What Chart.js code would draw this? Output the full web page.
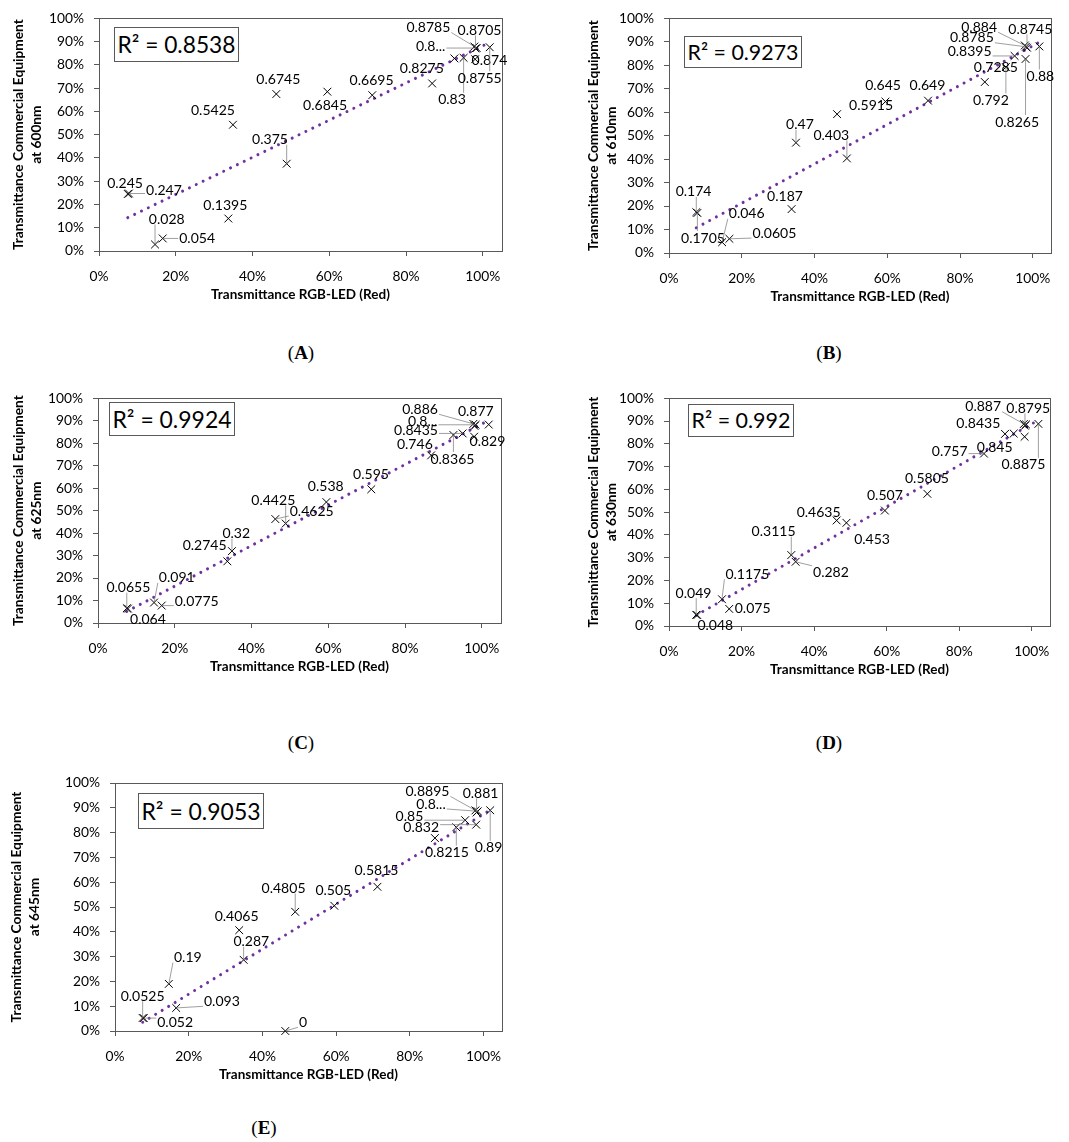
<!DOCTYPE html>
<html>
<head>
<meta charset="utf-8">
<script src="https://cdn.jsdelivr.net/npm/chart.js@4.4.1/dist/chart.umd.min.js"></script>
<style>
    body { margin: 0; background: #fff; }
    #page { position: relative; width: 1069px; height: 1142px; overflow: hidden; background: #fff; }
    #page canvas { position: absolute; }
    .r2 {
        position: absolute; box-sizing: border-box; border: 1px solid #595959; background: #fff;
        font-family: Lato, sans-serif; color: #000; text-align: center; white-space: nowrap;
    }
    .caption {
        position: absolute; transform: translate(-50%, -50%);
        font-family: "Liberation Serif", serif; font-size: 19px; color: #000; white-space: nowrap;
    }
</style>
</head>
<body>
<div id="page"></div>
<script>
// Shared x values: transmittance measured with the RGB-LED (red channel)
const xRed = [0.075, 0.078, 0.146, 0.166, 0.337, 0.349, 0.462, 0.489, 0.595, 0.712, 0.868, 0.926, 0.950, 0.978, 0.981, 0.984, 0.980, 1.018];

// Commercial equipment transmittance at each wavelength
const y600 = [0.245, 0.247, 0.028, 0.054, 0.1395, 0.5425, 0.6745, 0.375, 0.6845, 0.6695, 0.72, 0.8275, 0.83, 0.8785, 0.8705, 0.872, 0.824, 0.8755];
const y610 = [0.174, 0.1705, 0.046, 0.0605, 0.187, 0.47, 0.5915, 0.403, 0.645, 0.649, 0.7285, 0.792, 0.8395, 0.884, 0.8785, 0.8745, 0.8265, 0.88];
const y625 = [0.0655, 0.064, 0.091, 0.0775, 0.2745, 0.32, 0.4625, 0.4425, 0.538, 0.595, 0.746, 0.8365, 0.8435, 0.886, 0.877, 0.882, 0.829, 0.883];
const y630 = [0.049, 0.048, 0.1175, 0.075, 0.3115, 0.282, 0.4635, 0.453, 0.507, 0.5805, 0.757, 0.8435, 0.845, 0.887, 0.8795, 0.885, 0.831, 0.8875];
const y645 = [0.0525, 0.052, 0.19, 0.093, 0.4065, 0.287, 0, 0.4805, 0.505, 0.5815, 0.778, 0.8215, 0.85, 0.8895, 0.881, 0.886, 0.832, 0.89];

// Data label texts as printed on each panel (null = no label shown)
const labels600 = ['0.245', '0.247', '0.028', '0.054', '0.1395', '0.5425', '0.6745', '0.375', '0.6845', '0.6695', null, '0.8275', '0.83', '0.8785', '0.8705', '0.8...', '0.874', '0.8755'];
const labels610 = ['0.174', '0.1705', '0.046', '0.0605', '0.187', '0.47', '0.5915', '0.403', '0.645', '0.649', '0.7285', '0.792', '0.8395', '0.884', '0.8785', '0.8745', '0.8265', '0.88'];
const labels625 = ['0.0655', '0.064', '0.091', '0.0775', '0.2745', '0.32', '0.4625', '0.4425', '0.538', '0.595', '0.746', '0.8365', '0.8435', '0.886', '0.877', '0.8...', '0.829', null];
const labels630 = ['0.049', '0.048', '0.1175', '0.075', '0.3115', '0.282', '0.4635', '0.453', '0.507', '0.5805', '0.757', '0.8435', '0.845', '0.887', '0.8795', null, null, '0.8875'];
const labels645 = ['0.0525', '0.052', '0.19', '0.093', '0.4065', '0.287', '0', '0.4805', '0.505', '0.5815', null, '0.8215', '0.85', '0.8895', '0.881', '0.8...', '0.832', '0.89'];

// R squared of the linear trendline, as printed
const r2Values = ['0.8538', '0.9273', '0.9924', '0.992', '0.9053'];
const wavelengths = ['600nm', '610nm', '625nm', '630nm', '645nm'];
const panelLetters = ['A', 'B', 'C', 'D', 'E'];

// Tick labels
const xTickStep = 0.2;
const yTickStep = 0.1;

// Label placement: pixel offset of each label centre from its marker
const offsets600 = [[-2.7, -11.6], [35, -4], [11.7, -26], [34.4, -1], [-3, -14.3], [-20, -15.7], [2, -16], [-16.7, -25], [-2.3, 12.6], [-0.7, -16], [0, 0], [-32.6, 9.4], [-11.6, 41], [-46, -20], [4, -19], [-46, -2.7], [14.3, 0.7], [-10, 30]];
const offsets610 = [[-2.7, -21.3], [5.6, 24], [24.6, -29.4], [45, -6.7], [-6.6, -14], [4, -19], [34, -10], [-15.6, -24], [-2.4, -16.7], [-0.6, -16], [11, -15.7], [-15, 32.3], [-45, -5], [-45.7, -19.3], [-54, -10], [3.3, -19.3], [-8.4, 62], [1, 29]];
const offsets625 = [[1.6, -21.6], [20, 9.4], [22.7, -25.7], [35, -5], [-22.7, -17], [4.3, -18.3], [36.4, -9], [-12.4, -24], [-0.6, -16.6], [-0.3, -15.7], [-16.3, -12], [-1, 23], [-46.6, -4.3], [-53.3, -15.6], [1.3, -15.6], [-53, -4], [13.3, 4], [0, 0]];
const offsets630 = [[-2.7, -22.7], [18, 9], [25.4, -26], [23.4, -1.6], [-17.7, -24.4], [35.3, 10], [-18, -8.7], [25.6, 15.7], [0, -16], [-0.4, -16], [-34.3, -3.4], [-26.7, -11.7], [-19, 12.6], [-40.7, -18.3], [3.3, -18.3], [0, 0], [0, 0], [-15, 40]];
const offsets645 = [[0, -22.7], [31.4, 3], [19, -27.3], [45.7, -7.6], [-2.6, -15], [7.7, -19], [17.7, -9.7], [-11.7, -24.4], [-1, -16.7], [-1, -17.3], [0, 0], [-9.4, 24.4], [-55.7, -5], [-48, -20], [4, -20], [-46.7, -8.3], [-55, 1.7], [-1.7, 36.6]];

// Page layout (pixels): canvas box, plot area, y title first line, R2 box, caption centre
const layouts = [
    { canvas: [0, 0, 530, 320],   plot: [99, 17, 502, 251],   titleX: 19,    box: [114, 27, 125, 35], caption: [301, 353] },
    { canvas: [530, 0, 539, 320], plot: [669, 16, 1051, 253], titleX: 593.3, box: [684, 36, 118, 32], caption: [829, 353] },
    { canvas: [0, 380, 530, 320], plot: [98, 389, 501, 623],  titleX: 19,    box: [109, 402, 126, 34], caption: [301, 743] },
    { canvas: [530, 380, 539, 320], plot: [669, 389, 1050, 626], titleX: 593.3, box: [688, 404, 106, 33], caption: [829, 743] },
    { canvas: [0, 760, 530, 340], plot: [115, 783, 502, 1031], titleX: 16.7, box: [138, 793, 126, 36], caption: [264, 1128] }
];

const seriesY = [y600, y610, y625, y630, y645];
const seriesLabels = [labels600, labels610, labels625, labels630, labels645];
const seriesOffsets = [offsets600, offsets610, offsets625, offsets630, offsets645];

const AXIS_GRAY = '#595959';
const X_AXIS_H = 59;
const TITLE_LINE_GAP = 18;

// Pick a font size so a sample string is as wide as it is in the figure
const measureCtx = document.createElement('canvas').getContext('2d');
function sizeForWidth(sample, width, weight) {
    measureCtx.font = (weight || 'normal') + ' 100px Lato';
    return 100 * width / measureCtx.measureText(sample).width;
}

// Least squares line (same as the spreadsheet's linear trendline)
function linearFit(xs, ys) {
    const n = xs.length;
    const mx = xs.reduce((a, b) => a + b, 0) / n;
    const my = ys.reduce((a, b) => a + b, 0) / n;
    let sxy = 0, sxx = 0;
    xs.forEach((x, i) => { sxy += (x - mx) * (ys[i] - my); sxx += (x - mx) * (x - mx); });
    const slope = sxy / sxx;
    return { slope, intercept: my - slope * mx };
}

// Box round the plot area
const plotFrame = {
    id: 'plotFrame',
    beforeDatasetsDraw(chart) {
        const { ctx, chartArea: a } = chart;
        ctx.save();
        ctx.strokeStyle = AXIS_GRAY;
        ctx.lineWidth = 1;
        ctx.strokeRect(Math.round(a.left) + 0.5, Math.round(a.top) + 0.5, Math.round(a.right - a.left), Math.round(a.bottom - a.top));
        ctx.restore();
    }
};

// Data labels with leader lines
function makeLabelPlugin(labels, offsets, fontSize) {
    return {
        id: 'pointLabels',
        afterDatasetsDraw(chart) {
            const meta = chart.getDatasetMeta(1);
            const ctx = chart.ctx;
            ctx.save();
            ctx.font = fontSize.toFixed(2) + 'px Lato';
            ctx.textAlign = 'center';
            ctx.textBaseline = 'middle';
            meta.data.forEach((pt, i) => {
                const text = labels[i];
                if (!text) return;
                const [dx, dy] = offsets[i];
                const cx = pt.x + dx, cy = pt.y + dy;
                const hw = ctx.measureText(text).width / 2 + 1, hh = 6;
                const nx = Math.max(cx - hw, Math.min(pt.x, cx + hw));
                const ny = Math.max(cy - hh, Math.min(pt.y, cy + hh));
                if (Math.hypot(pt.x - nx, pt.y - ny) > 12) {
                    ctx.strokeStyle = '#7f7f7f';
                    ctx.lineWidth = 0.75;
                    ctx.beginPath();
                    ctx.moveTo(nx, ny);
                    ctx.lineTo(pt.x, pt.y);
                    ctx.stroke();
                }
                ctx.fillStyle = '#000';
                ctx.fillText(text, cx, cy + 1);
            });
            ctx.restore();
        }
    };
}

function buildPanel(i, fonts) {
    const page = document.getElementById('page');
    const lay = layouts[i];
    const [cl, ct, cw, ch] = lay.canvas;
    const [pl, pt, pr, pb] = lay.plot;
    const ys = seriesY[i];

    const canvas = document.createElement('canvas');
    canvas.width = cw;
    canvas.height = ch;
    canvas.style.left = cl + 'px';
    canvas.style.top = ct + 'px';
    page.appendChild(canvas);

    const fit = linearFit(xRed, ys);
    const x0 = Math.min(...xRed), x1 = Math.max(...xRed);
    const tickFont = { family: 'Lato', size: fonts.tick };
    const xTitleFont = { family: 'Lato', weight: 'bold', size: fonts.xTitle, lineHeight: TITLE_LINE_GAP / fonts.xTitle };
    const yTitleFont = { family: 'Lato', weight: 'bold', size: fonts.yTitle, lineHeight: TITLE_LINE_GAP / fonts.yTitle };

    new Chart(canvas, {
        type: 'scatter',
        data: {
            datasets: [{
                type: 'line',
                data: [{ x: x0, y: fit.intercept + fit.slope * x0 }, { x: x1, y: fit.intercept + fit.slope * x1 }],
                borderColor: '#7030a0',
                borderWidth: 3,
                borderDash: [0.01, 7.6],
                borderCapStyle: 'round',
                pointRadius: 0,
                fill: false,
                order: 2
            }, {
                data: xRed.map((x, k) => ({ x: x, y: ys[k] })),
                pointStyle: 'crossRot',
                pointRadius: 5.5,
                pointBorderWidth: 1,
                borderColor: '#000',
                backgroundColor: 'rgba(0,0,0,0)',
                clip: false,
                order: 1
            }]
        },
        options: {
            responsive: false,
            animation: false,
            events: [],
            layout: {
                padding: { left: 0, top: pt - ct, right: cl + cw - pr, bottom: ct + ch - pb - X_AXIS_H }
            },
            plugins: {
                legend: { display: false },
                tooltip: { enabled: false }
            },
            scales: {
                x: {
                    type: 'linear',
                    min: 0,
                    max: 1.05,
                    afterFit: (scale) => { scale.height = X_AXIS_H; },
                    ticks: {
                        stepSize: xTickStep,
                        includeBounds: false,
                        maxRotation: 0,
                        padding: 12,
                        color: '#000',
                        font: tickFont,
                        callback: (v) => Math.round(v * 100) + '%'
                    },
                    grid: { drawOnChartArea: false, drawTicks: true, tickLength: 5, color: AXIS_GRAY },
                    border: { display: true, color: AXIS_GRAY },
                    title: {
                        display: true,
                        text: 'Transmittance RGB-LED (Red)',
                        color: '#000',
                        font: xTitleFont,
                        padding: { top: 0, bottom: 15 - TITLE_LINE_GAP / 2 }
                    }
                },
                y: {
                    type: 'linear',
                    min: 0,
                    max: 1,
                    afterFit: (scale) => { scale.width = pl - cl; },
                    ticks: {
                        stepSize: yTickStep,
                        padding: 10,
                        color: '#000',
                        font: tickFont,
                        callback: (v) => Math.round(v * 100) + '%'
                    },
                    grid: { drawOnChartArea: false, drawTicks: true, tickLength: 5, color: AXIS_GRAY },
                    border: { display: true, color: AXIS_GRAY },
                    title: {
                        display: true,
                        text: ['Transmittance Commercial Equipment', 'at ' + wavelengths[i]],
                        color: '#000',
                        font: yTitleFont,
                        padding: { top: lay.titleX - cl - TITLE_LINE_GAP / 2, bottom: 0 }
                    }
                }
            }
        },
        plugins: [plotFrame, makeLabelPlugin(seriesLabels[i], seriesOffsets[i], fonts.label)]
    });

    // R squared box
    const box = document.createElement('div');
    box.className = 'r2';
    const [bx, by, bw, bh] = lay.box;
    const text = 'R\u00b2 = ' + r2Values[i];
    box.style.left = bx + 'px';
    box.style.top = by + 'px';
    box.style.width = bw + 'px';
    box.style.height = bh + 'px';
    box.style.lineHeight = (bh - 2) + 'px';
    box.style.fontSize = Math.min(sizeForWidth(text, bw - 7), 24).toFixed(2) + 'px';
    box.textContent = text;
    page.appendChild(box);

    // Panel caption
    const cap = document.createElement('div');
    cap.className = 'caption';
    cap.style.left = lay.caption[0] + 'px';
    cap.style.top = lay.caption[1] + 'px';
    cap.innerHTML = '(<b>' + panelLetters[i] + '</b>)';
    page.appendChild(cap);
}

function drawAll() {
    // widths of sample strings as measured on the figure
    const fonts = {
        label: sizeForWidth('0.8785', 44),
        tick: sizeForWidth('100%', 35),
        xTitle: sizeForWidth('Transmittance RGB-LED (Red)', 179, 'bold'),
        yTitle: sizeForWidth('Transmittance Commercial Equipment', 231, 'bold')
    };
    for (let i = 0; i < layouts.length; i++) buildPanel(i, fonts);
}

if (document.fonts && document.fonts.load) {
    Promise.all([document.fonts.load('14px Lato'), document.fonts.load('bold 13px Lato')])
        .then(drawAll, drawAll);
} else {
    drawAll();
}
</script>
</body>
</html>
